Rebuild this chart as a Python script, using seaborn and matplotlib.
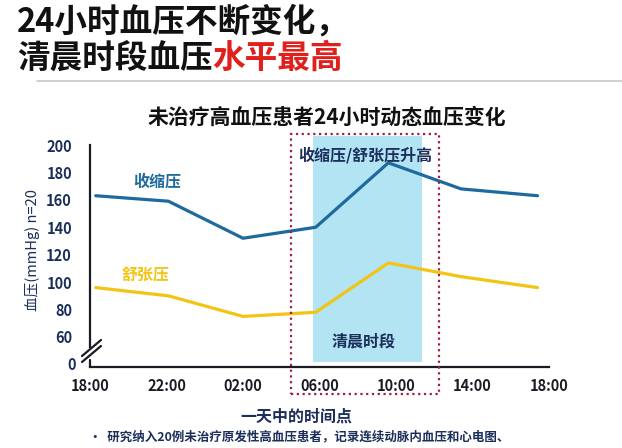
import pandas as pd
import matplotlib
matplotlib.use("Agg")
import matplotlib.pyplot as plt
from matplotlib.patches import Rectangle
from matplotlib.lines import Line2D
import seaborn as sns

# data (hours after 18:00)
hours = [0.3, 4.1, 8.0, 11.8, 15.6, 19.4, 23.4]
systolic = [163, 159, 132, 140, 187, 168, 163]
diastolic = [96, 90, 75, 78, 114, 104, 96]
tick_hours = [0, 4, 8, 12, 16, 20, 24]
tick_labels = ["18:00", "22:00", "02:00", "06:00", "10:00", "14:00", "18:00"]
y_ticks = [60, 80, 100, 120, 140, 160, 180, 200]
series_names = ["收缩压", "舒张压"]

BLUE = "#1f6a9c"
YELLOW = "#f3c414"
BAND = "#b2e4f4"
MAROON = "#9e1f45"
NAVY = "#1c2f5a"
DARK = "#1b1b24"

sns.set_style("white")
plt.rcParams["font.family"] = ["Noto Sans CJK SC", "DejaVu Sans"]

W, H = 622, 448
fig = plt.figure(figsize=(W / 100, H / 100), dpi=100)


def fx(px):
    return px / W


def fy(py):
    return 1 - py / H


ax = fig.add_axes([fx(90), fy(367), fx(549) - fx(90), fy(145) - fy(367)])
ymin = 38.1
ax.set_xlim(0, 24)
ax.set_ylim(ymin, 200)

df = pd.DataFrame({
    "hour": hours * 2,
    "bp": systolic + diastolic,
    "type": [series_names[0]] * len(hours) + [series_names[1]] * len(hours),
})

# morning band and dotted frame
ax.add_patch(Rectangle((11.66, 41.7), 5.7, 164.9, facecolor=BAND,
                       edgecolor="none", clip_on=False, zorder=1))
ax.add_patch(Rectangle((10.5, 18.2), 7.75, 189.8, fill=False,
                       edgecolor=MAROON, linestyle=(0, (1, 1.6)), lw=1.6,
                       clip_on=False, zorder=4))

sns.lineplot(data=df, x="hour", y="bp", hue="type",
             palette={series_names[0]: BLUE, series_names[1]: YELLOW},
             linewidth=2.3, legend=False, ax=ax, zorder=3)

# axes styling
sns.despine(ax=ax)
for s in ["left", "bottom"]:
    ax.spines[s].set_linewidth(1.6)
    ax.spines[s].set_color(DARK)
ax.spines["left"].set_bounds(52.5, 200)
ax.plot([0, 0], [ymin, 43.5], color=DARK, lw=1.6, clip_on=False, zorder=5)

ax.set_xticks(tick_hours)
ax.set_xticklabels(tick_labels, fontsize=10.5, fontweight="bold", color=DARK)
ax.set_yticks(y_ticks)
ax.set_yticklabels([str(v) for v in y_ticks], fontsize=10.5, fontweight="bold", color=NAVY)
ax.tick_params(axis="x", direction="in", length=6, width=1.6, color=DARK, pad=8)
ax.tick_params(axis="y", direction="out", length=5, width=1.6, color=DARK, pad=8)
ax.set_xlabel("")
ax.set_ylabel("")
ax.grid(False)

# break marks on the y axis
for dy in (0, -6):
    fig.add_artist(Line2D([fx(82), fx(101)], [fy(362 + dy), fy(346 + dy)],
                          color=DARK, lw=1.6))
fig.text(fx(76), fy(365), "0", ha="right", va="center", fontsize=10.5,
         fontweight="bold", color=NAVY)

# in-plot labels
ax.text(3.5, 173.7, "收缩压", color=BLUE, fontsize=11.5, fontweight="bold",
        ha="center", va="center")
ax.text(2.9, 105, "舒张压", color=YELLOW, fontsize=11.5, fontweight="bold",
        ha="center", va="center")
ax.text(14.4, 192.7, "收缩压/舒张压升高", color=NAVY, fontsize=11.5,
        fontweight="bold", ha="center", va="center", zorder=6)
ax.text(14.3, 57, "清晨时段", color=NAVY, fontsize=11.5, fontweight="bold",
        ha="center", va="center", zorder=6)

# titles
fig.text(fx(17), fy(22), "24小时血压不断变化，", fontsize=23.5, fontweight="heavy",
         color="#111111", ha="left", va="center")
t1 = fig.text(fx(17), fy(58), "清晨时段血压", fontsize=23.5, fontweight="heavy",
              color="#111111", ha="left", va="center")
fig.canvas.draw()
bb = t1.get_window_extent(fig.canvas.get_renderer())
fig.text(bb.x1 / W, fy(58), "水平最高", fontsize=23.5, fontweight="heavy",
         color="#e0201c", ha="left", va="center")
fig.add_artist(Line2D([fx(37), fx(622)], [fy(81), fy(81)], color="#c8c8c8", lw=1.2))

fig.text(fx(327), fy(117), "未治疗高血压患者24小时动态血压变化", fontsize=15,
         fontweight="heavy", color="#111111", ha="center", va="center")
fig.text(fx(32), fy(250), "血压(mmHg) n=20", rotation=90, fontsize=10.5,
         color=NAVY, ha="center", va="center")
fig.text(fx(296), fy(417), "一天中的时间点", fontsize=11.5, fontweight="bold",
         color=NAVY, ha="center", va="center")
fig.text(fx(89), fy(437), "•  研究纳入20例未治疗原发性高血压患者，记录连续动脉内血压和心电图、",
         fontsize=9, fontweight="bold", color=NAVY, ha="left", va="center")

fig.savefig("out.png", dpi=100, facecolor="white")
